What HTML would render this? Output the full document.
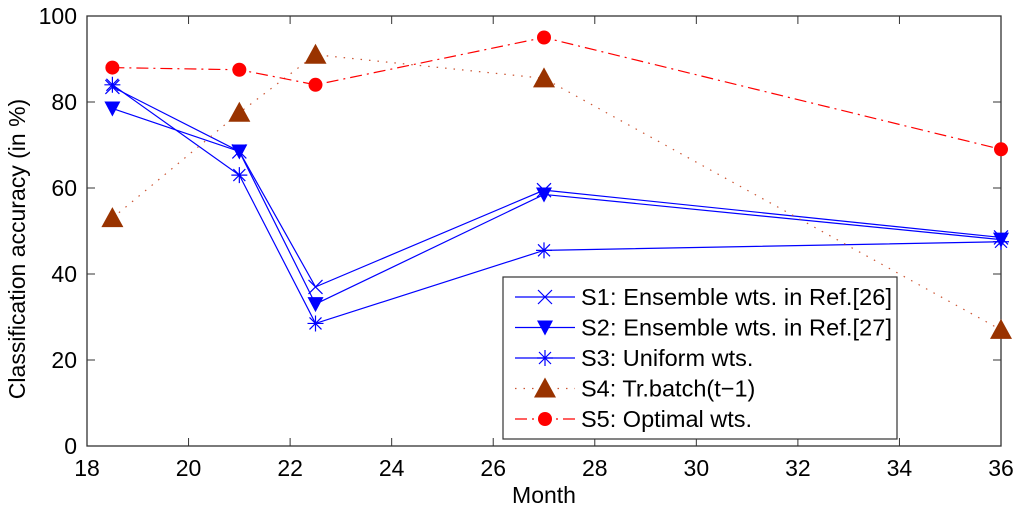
<!DOCTYPE html>
<html><head><meta charset="utf-8"><style>
body{margin:0;background:#fff}
svg{display:block;font-family:"Liberation Sans",sans-serif}
</style></head><body>
<svg id="c" width="1024" height="511"></svg>
<script>
const months=[18.5,21,22.5,27,36];
const s1=[83.5,68.5,37,59.5,48.5];
const s2=[78.5,68.5,33,58.5,48];
const s3=[84,63,28.5,45.5,47.5];
const s4=[53,77.5,91,85.5,27];
const s5=[88,87.5,84,95,69];
const xTicks=[18,20,22,24,26,28,30,32,34,36];
const yTicks=[0,20,40,60,80,100];
const L=87,R=1001,T=16,B=446;
const X=v=>L+(v-18)/(36-18)*(R-L);
const Y=v=>B-v/100*(B-T);
const svg=document.getElementById('c');
const NS='http://www.w3.org/2000/svg';
function mk(t,a,p){const e=document.createElementNS(NS,t);for(const k in a)e.setAttribute(k,a[k]);(p||svg).appendChild(e);return e;}
mk('rect',{x:L,y:T,width:R-L,height:B-T,fill:'#fff',stroke:'#333','stroke-width':1.3});
xTicks.forEach(t=>{const x=X(t);
 mk('line',{x1:x,x2:x,y1:B,y2:B-8,stroke:'#333'});mk('line',{x1:x,x2:x,y1:T,y2:T+8,stroke:'#333'});
 const tx=mk('text',{x:x,y:B+30,'text-anchor':'middle','font-size':23});tx.textContent=t;
 
 });
yTicks.forEach(t=>{const y=Y(t);
 mk('line',{x1:L,x2:L+8,y1:y,y2:y,stroke:'#333'});mk('line',{x1:R,x2:R-8,y1:y,y2:y,stroke:'#333'});
 const tx=mk('text',{x:L-10,y:y+8,'text-anchor':'end','font-size':23});tx.textContent=t;
 
 });
const xt=mk('text',{x:(L+R)/2,y:503,'text-anchor':'middle','font-size':23});xt.textContent='Month';


const yt=mk('text',{x:0,y:0,'text-anchor':'middle','font-size':23,transform:`translate(25,${(T+B)/2+18}) rotate(-90)`});yt.textContent='Classification accuracy (in %)';


function marker(type,x,y,g){
 if(type==='x'){mk('path',{d:`M${x-7},${y-7}L${x+7},${y+7}M${x-7},${y+7}L${x+7},${y-7}`,stroke:'#0000ff','stroke-width':1.2,fill:'none'},g);}
 else if(type==='star'){mk('path',{d:`M${x-8},${y}H${x+8}M${x},${y-8}V${y+8}M${x-6},${y-6}L${x+6},${y+6}M${x-6},${y+6}L${x+6},${y-6}`,stroke:'#0000ff','stroke-width':1.2,fill:'none'},g);}
 else if(type==='tdown'){mk('path',{d:`M${x-8},${y-7}H${x+8}L${x},${y+8}Z`,fill:'#0000ff'},g);}
 else if(type==='tup'){mk('path',{d:`M${x-11},${y+9}H${x+11}L${x},${y-11}Z`,fill:'#993300'},g);}
 else if(type==='dot'){mk('circle',{cx:x,cy:y,r:7,fill:'#ff0000'},g);}
}
const series=[
 {n:'series-s1',d:s1,c:'#0000ff',dash:'',m:'x',lab:'S1: Ensemble wts. in Ref.[26]'},
 {n:'series-s2',d:s2,c:'#0000ff',dash:'',m:'tdown',lab:'S2: Ensemble wts. in Ref.[27]'},
 {n:'series-s3',d:s3,c:'#0000ff',dash:'',m:'star',lab:'S3: Uniform wts.'},
 {n:'series-s4',d:s4,c:'#cc5533',dash:'1.5 7',m:'tup',lab:'S4: Tr.batch(t\u22121)'},
 {n:'series-s5',d:s5,c:'#ff0000',dash:'12 5 2 5',m:'dot',lab:'S5: Optimal wts.'}];
series.forEach(s=>{
 const g=mk('g',{});
 
 
 mk('polyline',{points:months.map((m,i)=>X(m)+','+Y(s.d[i])).join(' '),fill:'none',stroke:s.c,'stroke-width':1.2,'stroke-dasharray':s.dash},g);
 months.forEach((m,i)=>marker(s.m,X(m),Y(s.d[i]),g));
});
const lg=mk('g',{});


mk('rect',{x:503,y:277,width:394,height:162,fill:'#fff',stroke:'#333','stroke-width':1.2},lg);
series.forEach((s,i)=>{const y=297+i*30.5;
 const e=mk('g',{},lg);
 
 
 mk('line',{x1:515,x2:575,y1:y,y2:y,stroke:s.c,'stroke-width':1.2,'stroke-dasharray':s.dash},e);
 marker(s.m,545,y,e);
 const t=mk('text',{x:581,y:y+8,'font-size':23.5,textLength:s.lab.length>20?311:undefined},e);
 if(s.lab.length<=20)t.removeAttribute('textLength');
 t.textContent=s.lab;});
</script>
</body></html>
